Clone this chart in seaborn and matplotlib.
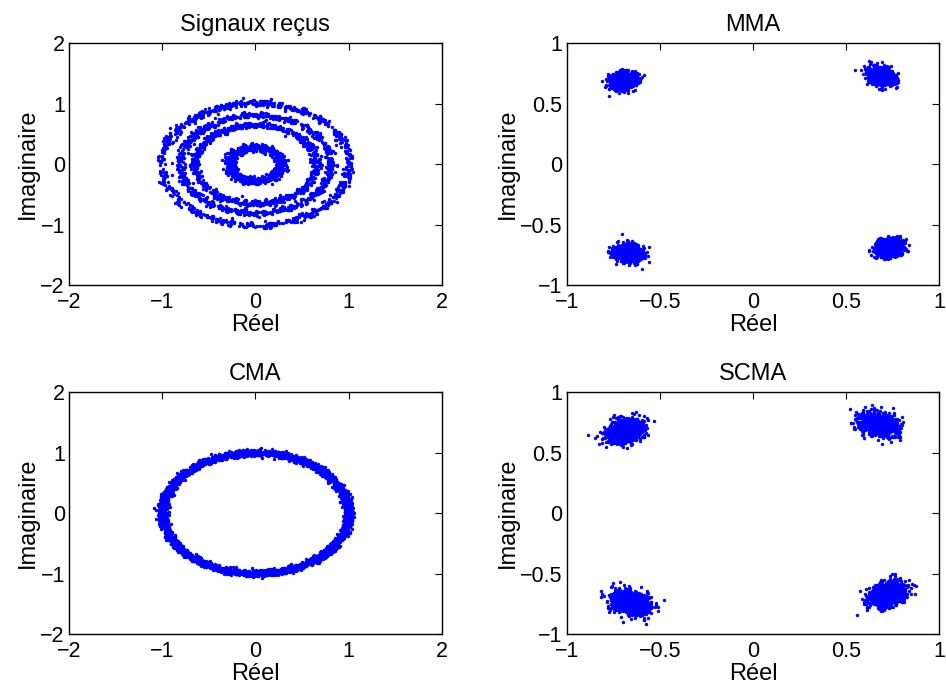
import numpy as np
import pandas as pd
import matplotlib
matplotlib.use("Agg")
import matplotlib.pyplot as plt
import seaborn as sns

# ---- values ----
# "Signaux reçus": four noisy rings (radius, noise sd, point count)
recus_radius = [0.28, 0.65, 0.81, 1.01]
recus_spread = [0.032, 0.026, 0.026, 0.028]
recus_count = [700, 700, 700, 700]

# CMA: single ring
cma_radius = [1.0]
cma_spread = [0.027]
cma_count = [3200]

# MMA: four QPSK clusters (centre x, centre y, radial sd, tangential sd)
mma_cx = [-0.70, 0.68, -0.67, 0.73]
mma_cy = [0.69, 0.73, -0.73, -0.69]
mma_rad_sd = [0.032, 0.032, 0.032, 0.032]
mma_tan_sd = [0.038, 0.038, 0.038, 0.038]
mma_count = [900, 900, 900, 900]

# SCMA: four QPSK clusters, wider
scma_cx = [-0.69, 0.67, -0.66, 0.72]
scma_cy = [0.68, 0.74, -0.74, -0.67]
scma_rad_sd = [0.042, 0.042, 0.042, 0.042]
scma_tan_sd = [0.056, 0.056, 0.056, 0.056]
scma_count = [900, 900, 900, 900]

titles = ["Signaux reçus", "MMA", "CMA", "SCMA"]
wide_ticks = [-2, -1, 0, 1, 2]
wide_labels = ["−2", "−1", "0", "1", "2"]
qpsk_ticks = [-1, -0.5, 0, 0.5, 1]
qpsk_labels = ["−1", "−0.5", "0", "0.5", "1"]

rng = np.random.default_rng(7)


def ring_points(radius, spread, count):
    xs, ys = [], []
    for r, s, n in zip(radius, spread, count):
        th = rng.uniform(0, 2 * np.pi, n)
        rr = r + rng.normal(0, s, n)
        xs.append(rr * np.cos(th))
        ys.append(rr * np.sin(th))
    return pd.DataFrame({"re": np.concatenate(xs), "im": np.concatenate(ys)})


def cluster_points(cx, cy, rad_sd, tan_sd, count):
    xs, ys = [], []
    for x0, y0, sr, st, n in zip(cx, cy, rad_sd, tan_sd, count):
        ang = np.arctan2(y0, x0)
        dr = rng.normal(0, sr, n)
        dt = rng.normal(0, st, n)
        xs.append(x0 + dr * np.cos(ang) - dt * np.sin(ang))
        ys.append(y0 + dr * np.sin(ang) + dt * np.cos(ang))
    return pd.DataFrame({"re": np.concatenate(xs), "im": np.concatenate(ys)})


frames = [
    ring_points(recus_radius, recus_spread, recus_count),
    cluster_points(mma_cx, mma_cy, mma_rad_sd, mma_tan_sd, mma_count),
    ring_points(cma_radius, cma_spread, cma_count),
    cluster_points(scma_cx, scma_cy, scma_rad_sd, scma_tan_sd, scma_count),
]

sns.set_theme(style="white")
plt.rcParams["font.family"] = ["Liberation Sans", "DejaVu Sans"]
plt.rcParams["text.color"] = "black"
plt.rcParams["axes.labelcolor"] = "black"

tick_fs = 15.5
label_fs = 17

fig = plt.figure(figsize=(9.46, 6.91), dpi=100)
positions = [
    [0.073, 0.5875, 0.394, 0.350],
    [0.599, 0.5875, 0.394, 0.350],
    [0.073, 0.0825, 0.394, 0.350],
    [0.599, 0.0825, 0.394, 0.350],
]

for i, (df, title, pos) in enumerate(zip(frames, titles, positions)):
    ax = fig.add_axes(pos)
    sns.scatterplot(data=df, x="re", y="im", ax=ax, color="#0000ff",
                    s=6, linewidth=0, marker="o", legend=False)
    if i in (0, 2):
        ax.set_xlim(-2, 2)
        ax.set_ylim(-2, 2)
        ax.set_xticks(wide_ticks, wide_labels)
        ax.set_yticks(wide_ticks, wide_labels)
    else:
        ax.set_xlim(-1, 1)
        ax.set_ylim(-1, 1)
        ax.set_xticks(qpsk_ticks, qpsk_labels)
        ax.set_yticks(qpsk_ticks, qpsk_labels)
    ax.tick_params(direction="in", length=5, width=0.8, top=True, right=True,
                   labelsize=tick_fs, colors="black")
    ax.tick_params(axis="x", pad=5)
    ax.tick_params(axis="y", pad=3)
    # lift the lowest y label slightly so it clears the x labels
    ax.get_yticklabels()[0].set_verticalalignment("center_baseline")
    for sp in ax.spines.values():
        sp.set_color("black")
        sp.set_linewidth(1.0)
    ax.set_xlabel("Réel", fontsize=label_fs, labelpad=1)
    ax.set_ylabel("Imaginaire", fontsize=label_fs, labelpad=1)
    ax.set_title(title, fontsize=label_fs, pad=9, color="black")

fig.savefig("out.png", dpi=100, facecolor="white")
